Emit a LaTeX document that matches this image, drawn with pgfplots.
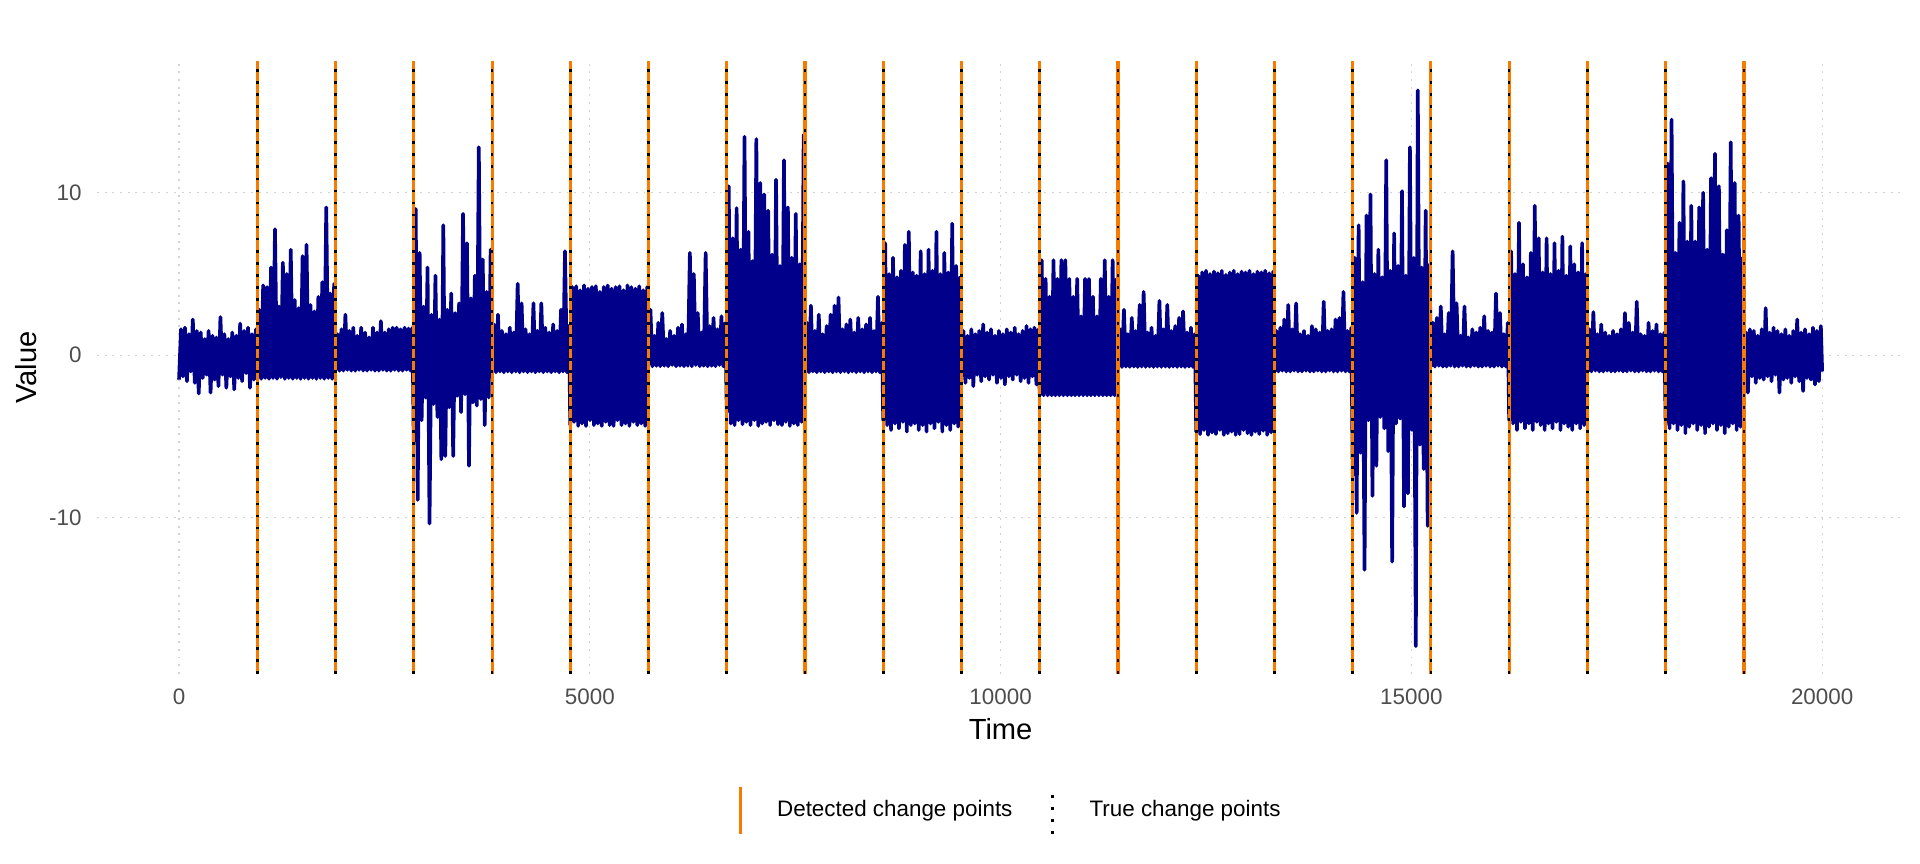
\documentclass[border=0pt]{standalone}
\usepackage{pgfplots}
\pgfplotsset{compat=1.18}
\usepackage{fontspec}
\setmainfont{Liberation Sans}
\definecolor{series}{RGB}{0,0,139}
\definecolor{detorange}{RGB}{245,124,0}
\definecolor{gridgray}{RGB}{211,211,211}
\definecolor{ticktext}{RGB}{77,77,77}
\begin{document}
\begin{tikzpicture}
\path[use as bounding box] (-34.6pt,-67.9pt) rectangle (651.2pt,240.7pt);
\begin{axis}[
  at={(0pt,0pt)}, anchor=south west,
  scale only axis, width=645.6pt, height=218.9pt,
  xmin=-1000, xmax=21000, ymin=-19.6, ymax=18.1,
  axis line style={draw=none},
  major tick length=0pt, tick style={draw=none},
  scaled x ticks=false, scaled y ticks=false,
  xtick={0,5000,10000,15000,20000},
  xticklabels={0,5000,10000,15000,20000},
  ytick={-10,0,10},
  yticklabels={-10,0,10},
  grid=major,
  major grid style={gridgray, line width=0.45pt, dash pattern=on 0.7pt off 2.05pt},
  ticklabel style={font=\fontsize{8}{9.6}\selectfont, text=ticktext, inner sep=0pt},
  xticklabel style={anchor=north, yshift=-5.1pt},
  yticklabel style={anchor=east, xshift=-5.3pt},
  xlabel={Time}, ylabel={Value},
  label style={font=\fontsize{10.4}{12.5}\selectfont, text=black, inner sep=0pt},
  xlabel style={at={(axis description cs:0.5,-0.0722)}, anchor=north},
  ylabel style={at={(axis description cs:-0.0329,0.5)}, anchor=south},
  legend columns=2,
  legend style={at={(0.3550,-0.2229)}, anchor=west, draw=none, fill=none,
    inner sep=0pt, outer sep=0pt, font=\fontsize{8}{9.6}\selectfont, text=black,
    nodes={inner sep=0pt},
    /tikz/every odd column/.append style={column sep=12.7pt},
    /tikz/every even column/.append style={column sep=13.9pt}},
  legend image code/.code={\draw[#1] (0pt,-8.4pt) -- (0pt,8.4pt);},
]
\addplot[series, line width=1.3pt, line join=round, mark=none, forget plot] coordinates {
(0,-1.5)(24,1.6)(48,-1.3)(72,1.7)(96,-1.6)(120,1.3)(144,-1.0)(168,2.2)(192,-1.7)(216,1.5)
(240,-2.35)(264,1.4)(288,-1.4)(312,1.0)(336,-1.2)(360,1.5)(384,-2.3)(408,1.2)(432,-1.5)(456,1.1)
(480,-1.9)(504,2.35)(528,-1.2)(552,1.3)(576,-2.0)(600,1.0)(624,-1.3)(648,1.4)(672,-2.1)(696,1.2)
(720,-1.4)(744,1.95)(768,-1.6)(792,1.5)(816,-1.1)(840,1.7)(864,-2.0)(888,1.3)(912,-1.5)(936,1.6)
(952,-1.4)(976,2.8)(1000,-1.45)(1024,4.3)(1048,-1.4)(1072,4.2)(1096,-1.45)(1120,5.4)(1144,-1.4)(1168,7.76)
(1192,-1.45)(1216,3.0)(1240,-1.35)(1264,5.7)(1288,-1.45)(1312,5.0)(1336,-1.4)(1360,6.5)(1384,-1.45)(1408,3.4)
(1432,-1.4)(1456,2.9)(1480,-1.45)(1504,6.1)(1528,-1.4)(1552,6.8)(1576,-1.45)(1600,3.1)(1624,-1.4)(1648,2.7)
(1672,-1.45)(1696,3.6)(1720,-1.4)(1744,4.5)(1768,-1.45)(1792,9.1)(1816,-1.4)(1840,3.8)(1864,-1.45)(1888,4.4)
(1905,-0.9)(1929,1.3)(1953,-0.95)(1977,1.6)(2001,-0.95)(2025,2.5)(2049,-0.9)(2073,1.5)(2097,-0.95)(2121,1.7)
(2145,-0.95)(2169,1.2)(2193,-0.9)(2217,1.7)(2241,-0.95)(2265,1.4)(2289,-0.95)(2313,1.1)(2337,-0.9)(2361,1.7)
(2385,-0.95)(2409,1.4)(2433,-0.95)(2457,2.1)(2481,-0.9)(2505,1.4)(2529,-0.95)(2553,1.6)(2577,-0.95)(2601,1.7)
(2625,-0.9)(2649,1.7)(2673,-0.95)(2697,1.6)(2721,-0.95)(2745,1.7)(2769,-0.9)(2793,1.65)(2817,-0.95)(2841,1.7)
(2857,-5.3)(2881,9.0)(2905,-8.9)(2929,6.3)(2953,-4.0)(2977,3.0)(3001,-2.6)(3025,5.4)(3049,-10.35)(3073,2.5)
(3097,-3.0)(3121,4.9)(3145,-3.8)(3169,2.2)(3193,-6.4)(3217,8.0)(3241,-6.2)(3265,2.8)(3289,-3.2)(3313,3.8)
(3337,-6.2)(3361,2.6)(3385,-2.5)(3409,3.2)(3433,-3.5)(3457,8.7)(3481,-2.4)(3505,6.9)(3529,-6.8)(3553,3.5)
(3577,-2.9)(3601,4.9)(3625,-3.1)(3649,12.8)(3673,-2.7)(3697,5.9)(3721,-4.3)(3745,3.9)(3769,-2.6)(3793,6.5)
(3810,-1.0)(3834,1.9)(3858,-1.05)(3882,2.5)(3906,-1.0)(3930,1.5)(3954,-1.05)(3978,1.3)(4002,-1.0)(4026,1.7)
(4050,-1.05)(4074,1.4)(4098,-1.0)(4122,4.4)(4146,-1.05)(4170,3.2)(4194,-1.0)(4218,1.6)(4242,-1.05)(4266,1.3)
(4290,-1.0)(4314,3.2)(4338,-1.05)(4362,1.5)(4386,-1.0)(4410,3.2)(4434,-1.05)(4458,1.7)(4482,-1.0)(4506,1.4)
(4530,-1.05)(4554,1.9)(4578,-1.0)(4602,1.5)(4626,-1.05)(4650,2.8)(4674,-1.0)(4698,6.4)(4722,-1.05)(4746,1.8)
(4762,-4.3)(4786,4.2)(4810,-4.1)(4834,4.25)(4858,-4.35)(4882,4.0)(4906,-4.2)(4930,4.3)(4954,-4.35)(4978,4.1)
(5002,-4.0)(5026,4.2)(5050,-4.3)(5074,4.25)(5098,-4.2)(5122,3.9)(5146,-4.35)(5170,4.2)(5194,-4.1)(5218,4.3)
(5242,-4.3)(5266,4.1)(5290,-4.35)(5314,4.2)(5338,-4.0)(5362,4.25)(5386,-4.3)(5410,4.0)(5434,-4.2)(5458,4.3)
(5482,-4.35)(5506,4.2)(5530,-4.1)(5554,4.1)(5578,-4.3)(5602,4.25)(5626,-4.2)(5650,4.0)(5674,-4.35)(5698,4.2)
(5714,-0.6)(5738,2.8)(5762,-0.68)(5786,1.2)(5810,-0.65)(5834,2.0)(5858,-0.68)(5882,2.6)(5906,-0.65)(5930,1.0)
(5954,-0.68)(5978,1.5)(6002,-0.6)(6026,1.2)(6050,-0.68)(6074,1.7)(6098,-0.65)(6122,1.9)(6146,-0.68)(6170,1.3)
(6194,-0.65)(6218,6.3)(6242,-0.68)(6266,5.0)(6290,-0.6)(6314,2.6)(6338,-0.68)(6362,1.4)(6386,-0.65)(6410,6.3)
(6434,-0.68)(6458,1.8)(6482,-0.65)(6506,2.3)(6530,-0.68)(6554,1.6)(6578,-0.6)(6602,2.4)(6626,-0.68)(6650,2.0)
(6667,-3.5)(6691,10.4)(6715,-4.2)(6739,7.2)(6763,-4.3)(6787,9.05)(6811,-4.0)(6835,6.5)(6859,-4.25)(6883,13.45)
(6907,-4.1)(6931,7.6)(6955,-4.3)(6979,5.8)(7003,-4.0)(7027,13.3)(7051,-4.35)(7075,10.6)(7099,-4.2)(7123,9.9)
(7147,-4.1)(7171,8.9)(7195,-4.3)(7219,6.2)(7243,-4.0)(7267,10.8)(7291,-4.25)(7315,5.5)(7339,-4.3)(7363,12.0)
(7387,-4.1)(7411,9.1)(7435,-4.35)(7459,6.0)(7483,-4.2)(7507,8.7)(7531,-4.3)(7555,5.6)(7579,-4.1)(7603,13.56)
(7619,-1.0)(7643,2.0)(7667,-1.05)(7691,3.05)(7715,-1.0)(7739,1.5)(7763,-1.05)(7787,2.5)(7811,-1.0)(7835,1.3)
(7859,-1.05)(7883,1.8)(7907,-1.0)(7931,2.5)(7955,-1.05)(7979,3.05)(8003,-1.0)(8027,3.55)(8051,-1.05)(8075,1.6)
(8099,-1.0)(8123,1.9)(8147,-1.05)(8171,2.2)(8195,-1.0)(8219,1.4)(8243,-1.05)(8267,2.3)(8291,-1.0)(8315,1.6)
(8339,-1.05)(8363,1.9)(8387,-1.0)(8411,2.3)(8435,-1.05)(8459,1.5)(8483,-1.0)(8507,3.6)(8531,-1.05)(8555,2.0)
(8571,-4.0)(8595,6.9)(8619,-4.3)(8643,5.0)(8667,-4.6)(8691,6.0)(8715,-4.2)(8739,4.8)(8763,-4.5)(8787,5.2)
(8811,-4.1)(8835,6.8)(8859,-4.7)(8883,7.6)(8907,-4.3)(8931,5.1)(8955,-4.2)(8979,4.9)(9003,-4.6)(9027,6.4)
(9051,-4.3)(9075,5.0)(9099,-4.7)(9123,6.5)(9147,-4.2)(9171,5.2)(9195,-4.5)(9219,7.6)(9243,-4.1)(9267,5.0)
(9291,-4.7)(9315,6.3)(9339,-4.3)(9363,5.1)(9387,-4.6)(9411,8.1)(9435,-4.2)(9459,5.5)(9483,-4.4)(9507,4.8)
(9524,-1.3)(9548,1.5)(9572,-1.7)(9596,1.2)(9620,-1.4)(9644,1.6)(9668,-1.9)(9692,1.3)(9716,-1.2)(9740,1.5)
(9764,-1.6)(9788,1.9)(9812,-1.3)(9836,1.4)(9860,-1.5)(9884,1.6)(9908,-1.2)(9932,1.2)(9956,-1.7)(9980,1.5)
(10004,-1.4)(10028,1.3)(10052,-1.8)(10076,1.6)(10100,-1.3)(10124,1.4)(10148,-1.5)(10172,1.7)(10196,-1.2)(10220,1.3)
(10244,-1.6)(10268,1.5)(10292,-1.4)(10316,1.8)(10340,-1.7)(10364,1.6)(10388,-1.3)(10412,1.7)(10436,-1.8)(10460,1.6)
(10476,-2.47)(10500,5.85)(10524,-2.47)(10548,4.7)(10572,-2.47)(10596,3.6)(10620,-2.47)(10644,5.85)(10668,-2.47)(10692,4.7)
(10716,-2.47)(10740,5.85)(10764,-2.47)(10788,5.85)(10812,-2.47)(10836,4.7)(10860,-2.47)(10884,3.6)(10908,-2.47)(10932,4.7)
(10956,-2.47)(10980,2.4)(11004,-2.47)(11028,4.7)(11052,-2.47)(11076,4.7)(11100,-2.47)(11124,3.6)(11148,-2.47)(11172,2.4)
(11196,-2.47)(11220,4.7)(11244,-2.47)(11268,5.85)(11292,-2.47)(11316,3.6)(11340,-2.47)(11364,5.85)(11388,-2.47)(11412,4.7)
(11429,-0.7)(11453,1.6)(11477,-0.72)(11501,2.8)(11525,-0.7)(11549,1.3)(11573,-0.72)(11597,2.3)(11621,-0.7)(11645,1.5)
(11669,-0.72)(11693,3.1)(11717,-0.7)(11741,3.9)(11765,-0.72)(11789,1.4)(11813,-0.7)(11837,1.7)(11861,-0.72)(11885,1.2)
(11909,-0.7)(11933,3.35)(11957,-0.72)(11981,1.6)(12005,-0.7)(12029,3.1)(12053,-0.72)(12077,1.5)(12101,-0.7)(12125,1.8)
(12149,-0.72)(12173,2.3)(12197,-0.7)(12221,2.7)(12245,-0.72)(12269,1.4)(12293,-0.7)(12317,1.7)(12341,-0.72)(12365,1.3)
(12381,-4.7)(12405,4.9)(12429,-4.85)(12453,5.1)(12477,-4.6)(12501,5.2)(12525,-4.9)(12549,5.0)(12573,-4.75)(12597,5.15)
(12621,-4.85)(12645,5.05)(12669,-4.6)(12693,5.2)(12717,-4.9)(12741,4.95)(12765,-4.8)(12789,5.1)(12813,-4.7)(12837,5.2)
(12861,-4.9)(12885,5.0)(12909,-4.85)(12933,5.15)(12957,-4.6)(12981,5.1)(13005,-4.8)(13029,5.2)(13053,-4.9)(13077,5.0)
(13101,-4.7)(13125,5.15)(13149,-4.85)(13173,5.1)(13197,-4.65)(13221,5.2)(13245,-4.9)(13269,5.05)(13293,-4.75)(13317,5.15)
(13333,-1.0)(13357,1.5)(13381,-1.0)(13405,1.7)(13429,-0.95)(13453,2.2)(13477,-1.0)(13501,3.1)(13525,-1.0)(13549,1.6)
(13573,-0.95)(13597,3.2)(13621,-1.0)(13645,1.3)(13669,-1.0)(13693,1.5)(13717,-0.95)(13741,1.2)(13765,-1.0)(13789,1.8)
(13813,-1.0)(13837,1.6)(13861,-0.95)(13885,1.4)(13909,-1.0)(13933,3.3)(13957,-1.0)(13981,1.5)(14005,-0.95)(14029,1.6)
(14053,-1.0)(14077,2.2)(14101,-1.0)(14125,2.3)(14149,-0.95)(14173,3.9)(14197,-1.0)(14221,1.5)(14245,-1.0)(14269,1.7)
(14286,-7.4)(14310,6.0)(14334,-9.7)(14358,8.0)(14382,-6.0)(14406,4.5)(14430,-13.2)(14454,8.6)(14478,-4.0)(14502,9.9)
(14526,-8.65)(14550,5.0)(14574,-6.8)(14598,6.5)(14622,-3.8)(14646,4.8)(14670,-4.5)(14694,12.0)(14718,-5.9)(14742,5.2)
(14766,-12.7)(14790,7.5)(14814,-4.2)(14838,5.5)(14862,-3.9)(14886,10.1)(14910,-9.3)(14934,4.9)(14958,-8.5)(14982,12.8)
(15006,-4.6)(15030,6.0)(15054,-17.9)(15078,16.3)(15102,-5.5)(15126,5.4)(15150,-7.0)(15174,8.9)(15198,-10.5)(15222,5.6)
(15238,-0.7)(15262,2.0)(15286,-0.7)(15310,2.3)(15334,-0.65)(15358,3.0)(15382,-0.7)(15406,1.3)(15430,-0.7)(15454,2.6)
(15478,-0.65)(15502,6.4)(15526,-0.7)(15550,3.2)(15574,-0.7)(15598,1.2)(15622,-0.65)(15646,3.0)(15670,-0.7)(15694,1.1)
(15718,-0.7)(15742,1.6)(15766,-0.65)(15790,1.4)(15814,-0.7)(15838,1.7)(15862,-0.7)(15886,2.4)(15910,-0.65)(15934,1.5)
(15958,-0.7)(15982,1.4)(16006,-0.7)(16030,3.8)(16054,-0.65)(16078,2.6)(16102,-0.7)(16126,1.3)(16150,-0.7)(16174,2.0)
(16190,-4.0)(16214,6.4)(16238,-4.2)(16262,5.0)(16286,-4.6)(16310,8.15)(16334,-4.1)(16358,5.6)(16382,-4.5)(16406,4.8)
(16430,-4.2)(16454,6.3)(16478,-4.6)(16502,9.2)(16526,-4.1)(16550,7.2)(16574,-4.3)(16598,5.1)(16622,-4.6)(16646,7.2)
(16670,-4.2)(16694,5.0)(16718,-4.5)(16742,6.9)(16766,-4.1)(16790,5.2)(16814,-4.6)(16838,7.3)(16862,-4.2)(16886,4.9)
(16910,-4.4)(16934,6.7)(16958,-4.6)(16982,5.6)(17006,-4.2)(17030,5.1)(17054,-4.5)(17078,6.9)(17102,-4.3)(17126,5.0)
(17143,-1.0)(17167,1.6)(17191,-1.0)(17215,2.65)(17239,-0.95)(17263,1.3)(17287,-1.0)(17311,1.9)(17335,-1.0)(17359,1.4)
(17383,-0.95)(17407,1.2)(17431,-1.0)(17455,1.5)(17479,-1.0)(17503,1.3)(17527,-0.95)(17551,1.6)(17575,-1.0)(17599,2.6)
(17623,-1.0)(17647,2.0)(17671,-0.95)(17695,1.4)(17719,-1.0)(17743,3.3)(17767,-1.0)(17791,1.3)(17815,-0.95)(17839,1.2)
(17863,-1.0)(17887,2.0)(17911,-1.0)(17935,1.5)(17959,-0.95)(17983,1.9)(18007,-1.0)(18031,1.3)(18055,-1.0)(18079,1.4)
(18095,-4.3)(18119,11.8)(18143,-4.5)(18167,14.5)(18191,-4.2)(18215,6.3)(18239,-4.6)(18263,8.15)(18287,-4.3)(18311,10.7)
(18335,-4.8)(18359,7.0)(18383,-4.4)(18407,9.2)(18431,-4.2)(18455,7.0)(18479,-4.6)(18503,9.1)(18527,-4.3)(18551,10.0)
(18575,-4.8)(18599,6.5)(18623,-4.4)(18647,10.9)(18671,-4.2)(18695,12.4)(18719,-4.6)(18743,10.4)(18767,-4.3)(18791,6.2)
(18815,-4.8)(18839,7.7)(18863,-4.4)(18887,13.1)(18911,-4.2)(18935,10.6)(18959,-4.6)(18983,8.6)(19007,-4.4)(19031,6.0)
(19048,-1.5)(19072,1.4)(19096,-2.3)(19120,1.6)(19144,-1.3)(19168,1.5)(19192,-1.7)(19216,1.2)(19240,-1.4)(19264,1.6)
(19288,-1.5)(19312,2.9)(19336,-1.3)(19360,1.4)(19384,-1.6)(19408,1.7)(19432,-1.2)(19456,1.5)(19480,-2.3)(19504,1.3)
(19528,-1.5)(19552,1.6)(19576,-1.4)(19600,1.2)(19624,-1.7)(19648,1.5)(19672,-1.3)(19696,2.2)(19720,-1.6)(19744,1.4)
(19768,-2.2)(19792,1.6)(19816,-1.4)(19840,1.3)(19864,-1.5)(19888,1.7)(19912,-1.8)(19936,1.5)(19960,-1.6)(19984,1.8)
(20000,-1.0)
};
\addplot[detorange, line width=1.1pt, mark=none, unbounded coords=jump] coordinates {
(952,-19.6)(952,18.1)(952,nan)(1905,-19.6)(1905,18.1)(1905,nan)(2857,-19.6)(2857,18.1)(2857,nan)
(3810,-19.6)(3810,18.1)(3810,nan)(4762,-19.6)(4762,18.1)(4762,nan)(5714,-19.6)(5714,18.1)(5714,nan)
(6667,-19.6)(6667,18.1)(6667,nan)(7619,-19.6)(7619,18.1)(7619,nan)(8571,-19.6)(8571,18.1)(8571,nan)
(9524,-19.6)(9524,18.1)(9524,nan)(10476,-19.6)(10476,18.1)(10476,nan)(11429,-19.6)(11429,18.1)(11429,nan)
(12381,-19.6)(12381,18.1)(12381,nan)(13333,-19.6)(13333,18.1)(13333,nan)(14286,-19.6)(14286,18.1)(14286,nan)
(15238,-19.6)(15238,18.1)(15238,nan)(16190,-19.6)(16190,18.1)(16190,nan)(17143,-19.6)(17143,18.1)(17143,nan)
(18095,-19.6)(18095,18.1)(18095,nan)(19048,-19.6)(19048,18.1)
};
\addplot[black, line width=0.95pt, mark=none, dash pattern=on 1.0pt off 3.3pt, unbounded coords=jump] coordinates {
(952,-19.6)(952,18.1)(952,nan)(1905,-19.6)(1905,18.1)(1905,nan)(2857,-19.6)(2857,18.1)(2857,nan)
(3810,-19.6)(3810,18.1)(3810,nan)(4762,-19.6)(4762,18.1)(4762,nan)(5714,-19.6)(5714,18.1)(5714,nan)
(6667,-19.6)(6667,18.1)(6667,nan)(7619,-19.6)(7619,18.1)(7619,nan)(8571,-19.6)(8571,18.1)(8571,nan)
(9524,-19.6)(9524,18.1)(9524,nan)(10476,-19.6)(10476,18.1)(10476,nan)(11429,-19.6)(11429,18.1)(11429,nan)
(12381,-19.6)(12381,18.1)(12381,nan)(13333,-19.6)(13333,18.1)(13333,nan)(14286,-19.6)(14286,18.1)(14286,nan)
(15238,-19.6)(15238,18.1)(15238,nan)(16190,-19.6)(16190,18.1)(16190,nan)(17143,-19.6)(17143,18.1)(17143,nan)
(18095,-19.6)(18095,18.1)(18095,nan)(19048,-19.6)(19048,18.1)
};
\legend{Detected change points, True change points}
\end{axis}
\end{tikzpicture}
\end{document}
